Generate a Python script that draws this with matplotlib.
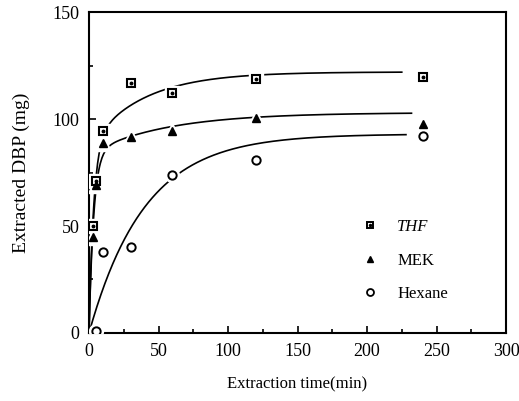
import numpy as np
import matplotlib.pyplot as plt
from matplotlib.lines import Line2D
from matplotlib.legend_handler import HandlerTuple

plt.rcParams['font.family'] = ['Liberation Serif', 'DejaVu Serif']

# measured points (min, mg)
time = [3, 5, 10, 30, 60, 120, 240]
thf = [50, 71, 94.5, 117, 112, 118.5, 119.5]
mek = [45, 69, 89, 91.5, 94.5, 100.5, 97.5]
hexane_time = [5, 10, 30, 60, 120, 240]
hexane = [1, 38, 40, 74, 81, 92]

# fitted curves: y = a1(1-exp(-k1 t)) + a2(1-exp(-k2 t))
thf_fit = (88, 0.30, 34, 0.026)
mek_fit = (84, 0.30, 19, 0.018)
hexane_fit = (93, 0.025, 0, 0.0)
fit_end = {'thf': 225, 'mek': 232, 'hexane': 228}


def model(t, p):
    a1, k1, a2, k2 = p
    return a1 * (1 - np.exp(-k1 * t)) + a2 * (1 - np.exp(-k2 * t))


fig = plt.figure(figsize=(5.19, 4.01), dpi=100)
ax = fig.add_axes([0.1715, 0.1696, 0.8035, 0.8004])

# fitted curves
for key, p in [('thf', thf_fit), ('mek', mek_fit), ('hexane', hexane_fit)]:
    tt = np.linspace(0, fit_end[key], 400)
    ax.plot(tt, model(tt, p), color='black', lw=1.2, zorder=2)

# white halos so the curves break around markers
ax.plot(time, thf, 's', ms=10, color='white', mec='white', zorder=3)
ax.plot(time, mek, '^', ms=11, color='white', mec='white', zorder=3)
ax.plot(hexane_time, hexane, 'o', ms=10, color='white', mec='white', zorder=3)

ax.plot(time, thf, 's', ms=6, mfc='white', mec='black', mew=1.5, zorder=4)
ax.plot(time, thf, 'o', ms=1.8, color='black', zorder=5)
ax.plot(time, mek, '^', ms=6, color='black', zorder=4)
ax.plot(hexane_time, hexane, 'o', ms=6, mfc='white', mec='black',
        mew=1.4, zorder=4)

ax.set_xlim(0, 300)
ax.set_ylim(0, 150)
ax.set_xticks(np.arange(0, 301, 50))
ax.set_xticks(np.arange(0, 301, 25), minor=True)
ax.set_yticks(np.arange(0, 151, 50))
ax.set_yticks(np.arange(0, 151, 25), minor=True)
ax.tick_params(which='both', direction='in', width=1.2)
ax.tick_params(which='major', length=5, labelsize=13, pad=7)
ax.tick_params(which='minor', length=3)
for s in ax.spines.values():
    s.set_linewidth(1.5)

ax.set_xlabel('Extraction time(min)', fontsize=12, labelpad=12)
ax.set_ylabel('Extracted DBP (mg)', fontsize=14, labelpad=16)

# smaller markers in the legend
h_sq = Line2D([], [], ls='none', marker='s', ms=5, mfc='white', mec='black', mew=1.4)
h_dot = Line2D([], [], ls='none', marker='o', ms=1.5, color='black')
h_tri = Line2D([], [], ls='none', marker='^', ms=5, color='black')
h_circ = Line2D([], [], ls='none', marker='o', ms=5, mfc='white', mec='black', mew=1.3)

leg = ax.legend([(h_sq, h_dot), h_tri, h_circ], ['THF', 'MEK', 'Hexane'],
                handler_map={tuple: HandlerTuple(ndivide=1)},
                loc='upper left', bbox_to_anchor=(0.655, 0.355),
                frameon=False, fontsize=12, handlelength=1.0,
                handletextpad=1.1, labelspacing=1.05, borderpad=0,
                borderaxespad=0)
leg.get_texts()[0].set_style('italic')

fig.savefig('out.png', dpi=100)
